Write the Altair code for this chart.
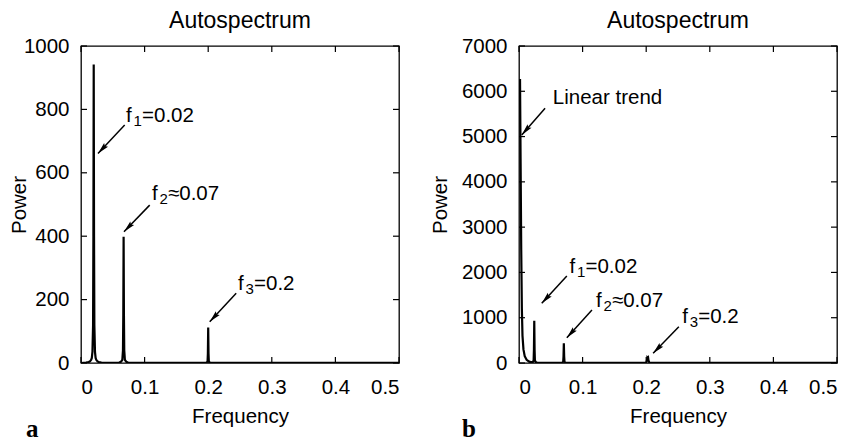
import math
import altair as alt
import pandas as pd

W, H = 318, 317
FONT = "Liberation Sans"

# ---------------- data ----------------
# Panel a: spectrum of the detrended series
freq_a = [0.000, 0.008, 0.012, 0.014, 0.016, 0.017, 0.018, 0.019, 0.0195, 0.020, 0.0205,
          0.021, 0.022, 0.023, 0.024, 0.026, 0.028, 0.032, 0.040,
          0.055, 0.060, 0.063, 0.065, 0.066, 0.0665, 0.067, 0.0675, 0.068, 0.069, 0.071,
          0.074, 0.080, 0.120,
          0.190, 0.197, 0.199, 0.1995, 0.200, 0.2005, 0.201, 0.203, 0.210, 0.300, 0.400, 0.500]
power_a = [0.0, 1.0, 3.0, 5.0, 10.0, 16.0, 35.0, 120.0, 400.0, 942.0, 400.0,
           120.0, 35.0, 16.0, 10.0, 5.0, 3.0, 1.0, 0.5,
           0.5, 1.5, 4.0, 10.0, 40.0, 150.0, 398.0, 150.0, 40.0, 10.0, 4.0,
           1.5, 0.5, 0.2,
           0.3, 1.0, 5.0, 30.0, 112.0, 30.0, 5.0, 1.0, 0.3, 0.1, 0.1, 0.1]

# Panel b: spectrum of the series with a linear trend
freq_b = [0.0016, 0.0025, 0.0035, 0.0045, 0.0055, 0.007, 0.009, 0.012, 0.016, 0.020,
          0.022, 0.023, 0.0235, 0.024, 0.0245, 0.025, 0.026, 0.028, 0.032, 0.040,
          0.060, 0.068, 0.0695, 0.070, 0.0705, 0.071, 0.0715, 0.073, 0.080, 0.120,
          0.195, 0.200, 0.2012, 0.2018, 0.2024, 0.2030, 0.2036, 0.205, 0.210, 0.300, 0.400, 0.500]
power_b = [6270, 4500, 2500, 1200, 600, 300, 150, 70, 30, 15,
           25, 60, 300, 934, 300, 60, 25, 10, 5, 3,
           2, 8, 30, 150, 435, 150, 30, 8, 2, 1,
           2, 5, 60, 120, 110, 120, 60, 5, 2, 1, 1, 1]

x_ticks = [0, 0.1, 0.2, 0.3, 0.4, 0.5]
y_ticks_a = [0, 200, 400, 600, 800, 1000]
y_ticks_b = [0, 1000, 2000, 3000, 4000, 5000, 6000, 7000]

# annotations (text anchor = baseline-left of label, arrow tail -> tip)
ann_a_main = ["f", "f", "f"]
ann_a_sub = ["1", "2", "3"]
ann_a_rest = ["=0.02", "\u22480.07", "=0.2"]
ann_a_x = [0.0708, 0.1116, 0.2469]
ann_a_y = [761, 514, 230]
arr_a_x = [0.0687, 0.108, 0.244]
arr_a_y = [751, 498, 220]
arr_a_x2 = [0.0267, 0.0676, 0.2024]
arr_a_y2 = [661, 414, 130]

ann_b_main = ["Linear trend", "f", "f", "f"]
ann_b_sub = ["", "1", "2", "3"]
ann_b_rest = ["", "=0.02", "\u22480.07", "=0.2"]
ann_b_x = [0.0532, 0.0793, 0.121, 0.2566]
ann_b_y = [5720, 1985, 1230, 890]
arr_b_x = [0.041, 0.0752, 0.1147, 0.2513]
arr_b_y = [5624, 1921, 1170, 802]
arr_b_x2 = [0.0043, 0.0358, 0.0752, 0.2109]
arr_b_y2 = [5035, 1318, 559, 214]

ARROW = "M0,0 L-0.45,2 L0,1.7 L0.45,2 Z"


def panel(freq, power, ymax, yticks, main, sub, rest, ax, ay, tx, ty, hx, hy,
          label, label_dx, ytitle_pad):
    xs = alt.Scale(domain=[0, 0.5], nice=False, zero=False, padding=0)
    ys = alt.Scale(domain=[0, ymax], nice=False, padding=0)

    x_axis = alt.Axis(values=x_ticks, format="~g", title="Frequency", ticks=False,
                      domain=False, grid=False, labelPadding=14, titlePadding=9)
    y_axis = alt.Axis(values=yticks, format="d", title="Power", ticks=False,
                      domain=False, grid=False, labelPadding=12, titlePadding=ytitle_pad)

    def X(field):
        return alt.X(field, scale=xs, axis=x_axis)

    def Y(field):
        return alt.Y(field, scale=ys, axis=y_axis)

    spec = pd.DataFrame({"f": freq, "p": power})
    line = alt.Chart(spec).mark_line(color="black", strokeWidth=2.2, clip=True).encode(
        x=X("f:Q"), y=Y("p:Q"))

    xt = pd.DataFrame({"t": x_ticks})
    yt = pd.DataFrame({"t": yticks})
    tick_style = dict(color="black", strokeWidth=1.2)
    t_bottom = alt.Chart(xt).mark_rule(**tick_style).encode(
        x=X("t:Q"), y=alt.value(H), y2=alt.value(H - 6))
    t_top = alt.Chart(xt).mark_rule(**tick_style).encode(
        x=X("t:Q"), y=alt.value(0), y2=alt.value(6))
    t_left = alt.Chart(yt).mark_rule(**tick_style).encode(
        y=Y("t:Q"), x=alt.value(0), x2=alt.value(6))
    t_right = alt.Chart(yt).mark_rule(**tick_style).encode(
        y=Y("t:Q"), x=alt.value(W), x2=alt.value(W - 6))

    # arrow head rotation from the on-screen direction of each arrow
    angles = []
    for a, b, c, d in zip(ax, ay, hx, hy):
        dxp = (c - a) / 0.5 * W
        dyp = -(d - b) / ymax * H
        angles.append(math.degrees(math.atan2(dxp, -dyp)) % 360)

    ann = pd.DataFrame({"x": tx, "y": ty, "main": main, "sub": sub, "rest": rest})
    arr = pd.DataFrame({"x": ax, "y": ay, "x2": hx, "y2": hy, "ang": angles})

    tstyle = dict(font=FONT, fontSize=20.5, color="black", align="left", baseline="alphabetic")
    t_main = alt.Chart(ann).mark_text(**tstyle).encode(x=X("x:Q"), y=Y("y:Q"), text="main:N")
    t_sub = alt.Chart(ann).mark_text(font=FONT, fontSize=15, color="black", align="left",
                                     baseline="alphabetic", dx=7.5, dy=4).encode(
        x=X("x:Q"), y=Y("y:Q"), text="sub:N")
    t_rest = alt.Chart(ann).mark_text(dx=16, **tstyle).encode(
        x=X("x:Q"), y=Y("y:Q"), text="rest:N")

    shaft = alt.Chart(arr).mark_rule(color="black", strokeWidth=1.5).encode(
        x=X("x:Q"), y=Y("y:Q"), x2="x2:Q", y2="y2:Q")
    head = alt.Chart(arr).mark_point(shape=ARROW, filled=True, color="black", size=140,
                                     opacity=1).encode(
        x=X("x2:Q"), y=Y("y2:Q"), angle=alt.Angle("ang:Q", scale=None))

    lab = alt.Chart(pd.DataFrame({"lab": [label]})).mark_text(
        font="Liberation Serif", fontSize=25, fontWeight="bold", color="black",
        align="left", baseline="alphabetic").encode(
        text="lab:N", x=alt.value(label_dx), y=alt.value(H + 74))

    return alt.layer(line, t_bottom, t_top, t_left, t_right, shaft, head,
                     t_main, t_sub, t_rest, lab).properties(
        width=W, height=H,
        title=alt.TitleParams("Autospectrum", font=FONT, fontSize=23, fontWeight="normal",
                              color="black", anchor="middle", frame="group", offset=3))


pa = panel(freq_a, power_a, 1000, y_ticks_a, ann_a_main, ann_a_sub, ann_a_rest,
           arr_a_x, arr_a_y, ann_a_x, ann_a_y, arr_a_x2, arr_a_y2, "a", -55, -6)
pb = panel(freq_b, power_b, 7000, y_ticks_b, ann_b_main, ann_b_sub, ann_b_rest,
           arr_b_x, arr_b_y, ann_b_x, ann_b_y, arr_b_x2, arr_b_y2, "b", -57, 11)

chart = alt.hconcat(pa, pb, spacing=28).properties(
    padding={"left": 0, "top": 1, "right": 0, "bottom": 0},
    background="white",
).configure_view(stroke="black", strokeWidth=1.3).configure_axis(
    labelFont=FONT, labelFontSize=20.5, labelColor="black",
    titleFont=FONT, titleFontSize=20.5, titleColor="black", titleFontWeight="normal"
)

chart.save("out.html", embed_options={"renderer": "svg", "actions": False})
